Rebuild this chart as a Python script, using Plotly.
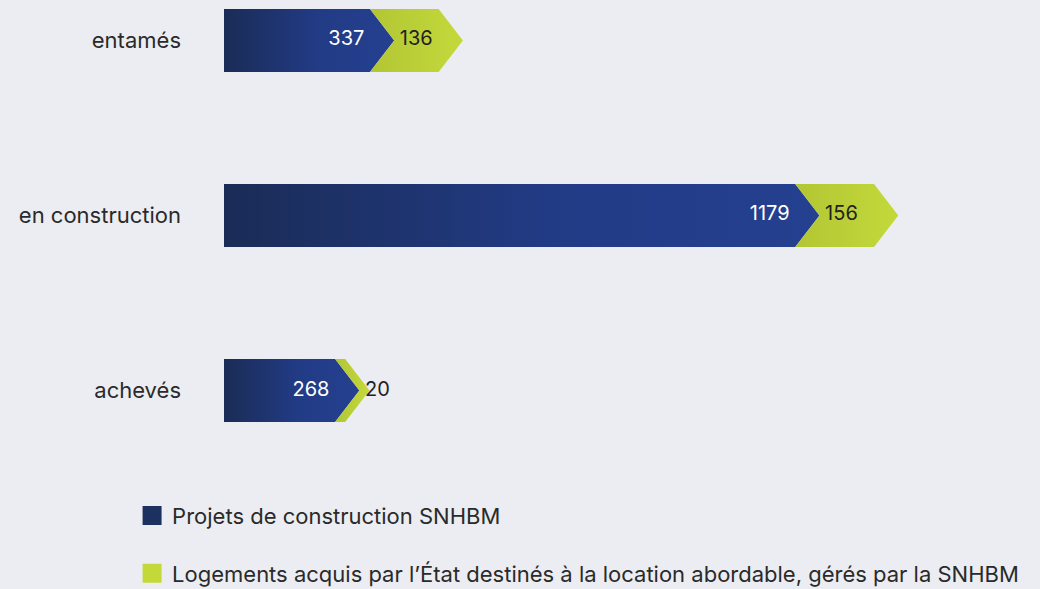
import plotly.graph_objects as go

# ---- data ----
categories = ["entamés", "en construction", "achevés"]
snhbm_projects = [337, 1179, 268]
state_housing = [136, 156, 20]
series_names = [
    "Projets de construction SNHBM",
    "Logements acquis par l’État destinés à la location abordable, gérés par la SNHBM",
]

# ---- style ----
BG = "#ecedf2"
FONT = "Inter"
BLUE_SCALE = [[0, "#1a2c56"], [0.55, "#223b85"], [1, "#244090"]]
GREEN_SCALE = [[0, "#b2c634"], [1, "#c3d93a"]]
HALF_H = 0.18      # half bar thickness (category units)
TIP = 48           # chevron depth (x units)
NBSP = "\u00a0"

fig = go.Figure()
ypos = list(range(len(categories)))

for i, cat in enumerate(categories):
    b = snhbm_projects[i]
    e = b + state_housing[i]
    top, bot = i - HALF_H, i + HALF_H
    # blue chevron bar
    fig.add_trace(go.Scatter(
        x=[0, b - TIP, b, b - TIP, 0, 0],
        y=[top, top, i, bot, bot, top],
        mode="lines", line=dict(width=0), fill="toself",
        fillgradient=dict(type="horizontal", colorscale=BLUE_SCALE),
        showlegend=False, hoveron="fills",
        name=f"{cat}: {b}",
    ))
    # green chevron bar
    fig.add_trace(go.Scatter(
        x=[b - TIP, e - TIP, e, e - TIP, b - TIP, b, b - TIP],
        y=[top, top, i, bot, bot, i, top],
        mode="lines", line=dict(width=0), fill="toself",
        fillgradient=dict(type="horizontal", colorscale=GREEN_SCALE),
        showlegend=False, hoveron="fills",
        name=f"{cat}: {state_housing[i]}",
    ))

# value labels
fig.add_trace(go.Scatter(
    x=[v - TIP for v in snhbm_projects], y=ypos,
    text=[f"{v}{NBSP}" for v in snhbm_projects], mode="text",
    textposition="middle left",
    textfont=dict(family=FONT, size=20, color="white"),
    showlegend=False, hoverinfo="skip",
))
fig.add_trace(go.Scatter(
    x=snhbm_projects, y=ypos,
    text=[f"{NBSP}{v}" for v in state_housing], mode="text",
    textposition="middle right",
    textfont=dict(family=FONT, size=20, color="#222222"),
    showlegend=False, hoverinfo="skip",
))

# legend entries
fig.add_trace(go.Scatter(
    x=[None], y=[None], mode="markers", name=series_names[0],
    marker=dict(symbol="square", size=21, color="#1c3160",
                line=dict(width=3, color="#1c3160")),
    legendgroup="a",
))
fig.add_trace(go.Scatter(
    x=[None], y=[None], mode="markers", name=series_names[1],
    marker=dict(symbol="square", size=21, color="#c3d93a",
                line=dict(width=3, color="#c3d93a")),
    legendgroup="b",
))

fig.update_layout(
    width=1040, height=589,
    paper_bgcolor=BG, plot_bgcolor=BG,
    margin=dict(l=224, r=20, t=0, b=129, autoexpand=False),
    font=dict(family=FONT, size=22, color="#2a2a2a"),
    showlegend=True,
    legend=dict(
        xref="container", yref="container",
        x=0.127, y=0.16, xanchor="left", yanchor="top",
        traceorder="grouped", tracegroupgap=26,
        bgcolor="rgba(0,0,0,0)",
        font=dict(family=FONT, size=22, color="#2a2a2a"),
        itemclick=False, itemdoubleclick=False,
    ),
    xaxis=dict(visible=False, range=[0, 1576], fixedrange=True),
    yaxis=dict(
        tickvals=ypos, ticktext=categories,
        range=[2.397, -0.231], automargin=False,
        showgrid=False, zeroline=False, showline=False, ticks="",
        ticklabelstandoff=42,
        tickfont=dict(family=FONT, size=22, color="#2a2a2a"),
        fixedrange=True,
    ),
)

fig.write_html(
    "out.html",
    config={"displayModeBar": False},
    post_script="document.body.style.margin='0';document.body.style.background='" + BG + "';",
)
